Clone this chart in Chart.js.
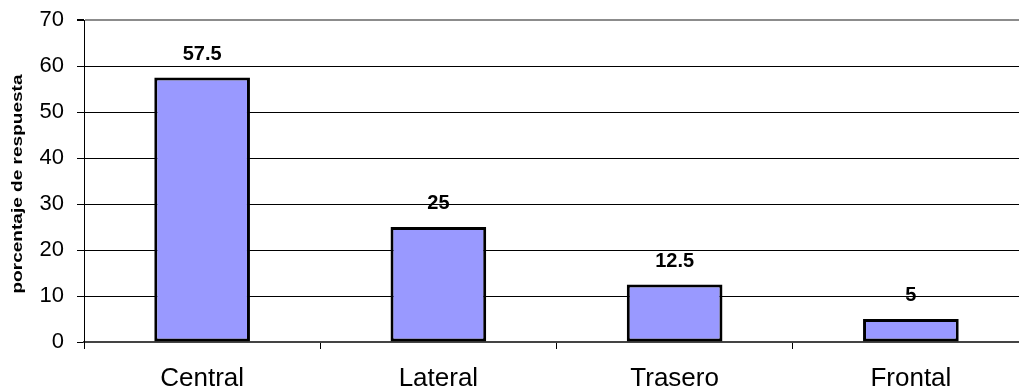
<!DOCTYPE html>
<html>
<head>
<meta charset="utf-8">
<script src="https://cdn.jsdelivr.net/npm/chart.js@4/dist/chart.umd.min.js"></script>
<style>
  html, body { margin: 0; padding: 0; background: #fff; overflow: hidden; }
  #wrap { width: 1019px; height: 391px; overflow: hidden; position: relative; }
  canvas { display: block; }
</style>
</head>
<body>
<div id="wrap"><canvas id="c" width="1030" height="391"></canvas></div>
<script>
const categories = ['Central', 'Lateral', 'Trasero', 'Frontal'];
const porcentajes = [57.5, 25, 12.5, 5];
const yTicks = [0, 10, 20, 30, 40, 50, 60, 70];
const yTitle = 'porcentaje de respuesta';

const FONT = '"Liberation Sans", Arial, sans-serif';

// value labels above each bar
const valueLabels = {
  id: 'valueLabels',
  afterDatasetsDraw(chart) {
    const ctx = chart.ctx;
    const meta = chart.getDatasetMeta(0);
    ctx.save();
    ctx.font = 'bold 20px ' + FONT;
    ctx.fillStyle = '#000';
    ctx.textAlign = 'center';
    ctx.textBaseline = 'alphabetic';
    meta.data.forEach((bar, i) => {
      ctx.fillText(String(porcentajes[i]), bar.x, bar.y - 18);
    });
    ctx.restore();
  }
};

// rotated axis title, slightly stretched along its length
const axisTitle = {
  id: 'axisTitle',
  afterDraw(chart) {
    const ctx = chart.ctx;
    const a = chart.chartArea;
    ctx.save();
    ctx.translate(18.5, (a.top + a.bottom) / 2 + 3);
    ctx.rotate(-Math.PI / 2);
    ctx.scale(1.36, 1);
    ctx.font = 'bold 14px ' + FONT;
    ctx.fillStyle = '#000';
    ctx.textAlign = 'center';
    ctx.textBaseline = 'middle';
    ctx.fillText(yTitle, 0, 0);
    ctx.restore();
  }
};

new Chart(document.getElementById('c'), {
  type: 'bar',
  data: {
    labels: categories,
    datasets: [{
      data: porcentajes,
      backgroundColor: '#9999FF',
      borderColor: '#000',
      borderWidth: 3,
      borderSkipped: false,
      barPercentage: 0.405,
      categoryPercentage: 1
    }]
  },
  options: {
    responsive: false,
    animation: false,
    devicePixelRatio: 1,
    layout: { padding: { top: 20, left: 0, right: 1, bottom: 0 } },
    plugins: { legend: { display: false }, tooltip: { enabled: false } },
    scales: {
      x: {
        offset: true,
        grid: {
          offset: true,
          drawOnChartArea: false,
          drawTicks: true,
          tickLength: 7,
          color: '#000',
          lineWidth: 1
        },
        border: { color: '#444', width: 2 },
        ticks: {
          color: '#000',
          font: { family: FONT, size: 26 },
          padding: 14,
          maxRotation: 0
        },
        afterFit(scale) {
          scale.height = 49;
          scale.paddingLeft = 0;
          scale.paddingRight = 0;
        }
      },
      y: {
        min: 0,
        max: 70,
        afterBuildTicks(scale) { scale.ticks = yTicks.map(v => ({ value: v })); },
        grid: {
          color: (c) => (c.tick && c.tick.value === 70 ? '#8c8c8c' : '#000'),
          lineWidth: (c) => (c.tick && c.tick.value === 70 ? 2 : 1),
          tickColor: '#000',
          tickLength: 7
        },
        border: { color: '#000', width: 1 },
        ticks: {
          color: '#000',
          font: { family: FONT, size: 22 },
          padding: 13
        },
        afterFit(scale) {
          scale.width = 84;
          scale.paddingTop = 0;
          scale.paddingBottom = 0;
        }
      }
    }
  },
  plugins: [valueLabels, axisTitle]
});
</script>
</body>
</html>
